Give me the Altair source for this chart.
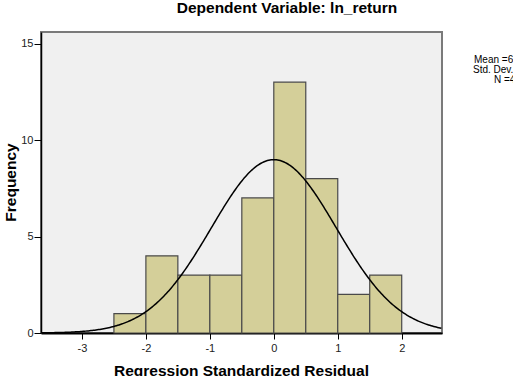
import altair as alt
import pandas as pd

# Histogram of standardized residuals (bin edges and counts)
bin_start = [-2.5, -2.0, -1.5, -1.0, -0.5, 0.0, 0.5, 1.0, 1.5]
bin_end = [-2.0, -1.5, -1.0, -0.5, 0.0, 0.5, 1.0, 1.5, 2.0]
counts = [1, 4, 3, 3, 7, 13, 8, 2, 3]

# Summary statistics for the fitted normal curve
mean_val = 6.94e-16
std_dev = 0.977
n_obs = 44
bin_width = 0.5

x_ticks = [-3, -2, -1, 0, 1, 2]
y_ticks = [0, 5, 10, 15]
x_domain = [-3.64, 2.63]
y_domain = [0, 15.6]

stats_lines = ["Mean =6.94E-16", "Std. Dev. =0.977", "N =44"]
stats_x = [433, 432, 453]
stats_y = [28, 38, 48]

W, H = 401, 301
FONT = "Liberation Sans"

bars = pd.DataFrame({"start": bin_start, "end": bin_end, "count": counts})

x_scale = alt.Scale(domain=x_domain, nice=False, zero=False)
y_scale = alt.Scale(domain=y_domain, nice=False)

# plain hyphen-minus for negative tick labels
plain_label = "'' + datum.value"

x_axis = alt.Axis(values=x_ticks, title=None, grid=False, tickSize=6, tickColor="black",
                  domainColor="black", domainWidth=2, labelFontSize=11, labelColor="#222222",
                  labelFont=FONT, labelPadding=3, labelExpr=plain_label)
y_axis = alt.Axis(values=y_ticks, title=None, grid=False, tickSize=7, tickColor="black",
                  domainColor="black", domainWidth=1.5, labelFontSize=11, labelColor="#222222",
                  labelFont=FONT, labelPadding=1, labelExpr=plain_label)

hist = alt.Chart(bars).mark_rect(
    fill="#D4CF99", stroke="#4a4a4a", strokeWidth=1.2
).encode(
    x=alt.X("start:Q", scale=x_scale, axis=x_axis),
    x2="end:Q",
    y=alt.Y("count:Q", scale=y_scale, axis=y_axis),
    y2=alt.datum(0),
)

curve = alt.Chart(alt.sequence(start=x_domain[0], stop=x_domain[1] + 0.01, step=0.02, as_="x")).transform_calculate(
    z=f"(datum.x - {mean_val}) / {std_dev}"
).transform_calculate(
    freq=f"{n_obs} * {bin_width} * exp(-0.5 * datum.z * datum.z) / ({std_dev} * sqrt(2 * PI))"
).mark_line(color="black", strokeWidth=1.5, clip=True).encode(
    x=alt.X("x:Q", scale=x_scale, axis=x_axis),
    y=alt.Y("freq:Q", scale=y_scale, axis=y_axis),
)

def label(text, x, y, size=15.5, weight="bold", angle=0, align="center"):
    return alt.Chart(pd.DataFrame({"t": [text]})).mark_text(
        font=FONT, fontSize=size, fontWeight=weight, angle=angle, align=align,
        baseline="middle", color="black",
    ).encode(text="t:N", x=alt.value(x), y=alt.value(y))

title = label("Dependent Variable: ln_return", 246, -24)
x_title = label("Regression Standardized Residual", W / 2, H + 38)
y_title = label("Frequency", -30, H / 2, angle=270)

stats = [label(t, x, y, size=10, weight="normal", align="left")
         for t, x, y in zip(stats_lines, stats_x, stats_y)]

chart = alt.layer(hist, curve, title, x_title, y_title, *stats).properties(
    width=W, height=H,
    autosize=alt.AutoSizeParams(type="none"),
    padding={"left": 41, "top": 32, "right": 71, "bottom": 43},
    background="white",
).configure_view(
    fill="#F0F0F0", stroke="#7a7a7a", strokeWidth=2
)

chart.save("out.html", embed_options={"renderer": "svg", "actions": False})
